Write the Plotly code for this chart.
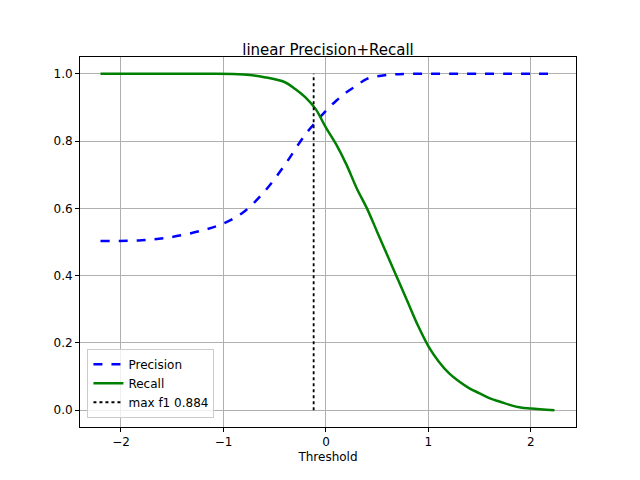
import plotly.graph_objects as go

prec_x = [-2.2, -1.8, -1.5, -1.2, -1.0, -0.8, -0.6, -0.4, -0.2, 0.0, 0.1, 0.2, 0.3, 0.4, 0.6, 0.8, 1.2, 2.23]
prec_y = [0.503, 0.505, 0.515, 0.535, 0.555, 0.59, 0.65, 0.73, 0.82, 0.89, 0.92, 0.945, 0.965, 0.985, 0.997, 1.0, 1.0, 1.0]
rec_x = [-2.2, -1.2, -0.8, -0.6, -0.4, -0.3, -0.2, -0.1, 0.0, 0.1, 0.2, 0.3, 0.4, 0.5, 0.6, 0.7, 0.8, 0.9,
         1.0, 1.1, 1.2, 1.3, 1.4, 1.5, 1.6, 1.7, 1.8, 1.9, 2.0, 2.23]
rec_y = [1.0, 1.0, 0.998, 0.99, 0.975, 0.955, 0.93, 0.895, 0.84, 0.79, 0.73, 0.66, 0.6, 0.53, 0.46, 0.39, 0.32, 0.25,
         0.19, 0.145, 0.11, 0.085, 0.065, 0.05, 0.035, 0.025, 0.015, 0.008, 0.005, 0.0]
best_t = -0.12
best_f1 = 0.884

fig = go.Figure()
fig.add_trace(go.Scatter(x=prec_x, y=prec_y, mode="lines", name="Precision", line_shape="spline",
                         line=dict(color="blue", width=2.5, dash="dash")))
fig.add_trace(go.Scatter(x=rec_x, y=rec_y, mode="lines", name="Recall", line_shape="spline",
                         line=dict(color="green", width=2.5)))
fig.add_trace(go.Scatter(x=[best_t, best_t], y=[0, 1], mode="lines", name="max f1 %.3f" % best_f1,
                         line=dict(color="black", width=1.8, dash="dot")))

ax = dict(showgrid=True, gridcolor="#b0b0b0", zeroline=False, showline=True, linecolor="black",
          mirror=True, ticks="outside", tickcolor="black", ticklen=4)
fig.update_layout(
    width=640, height=480, paper_bgcolor="white", plot_bgcolor="white",
    margin=dict(l=72, r=72, t=49, b=61),
    font=dict(family="DejaVu Sans", size=12, color="black"),
    title=dict(text="linear Precision+Recall", x=0.5, xanchor="center", y=0.912, yanchor="middle",
               font=dict(size=15)),
    xaxis=dict(ax, range=[-2.4, 2.44], tickvals=[-2, -1, 0, 1, 2], ticktext=["\u22122", "\u22121", "0", "1", "2"],
               title=dict(text="Threshold", standoff=4, font=dict(size=12))),
    yaxis=dict(ax, range=[-0.05, 1.05], tickvals=[0, 0.2, 0.4, 0.6, 0.8, 1.0], tickformat=".1f"),
    legend=dict(x=0.015, y=0.025, xanchor="left", yanchor="bottom", bordercolor="#cccccc", borderwidth=1,
                bgcolor="rgba(255,255,255,0.8)"),
)
fig.write_html("out.html")
